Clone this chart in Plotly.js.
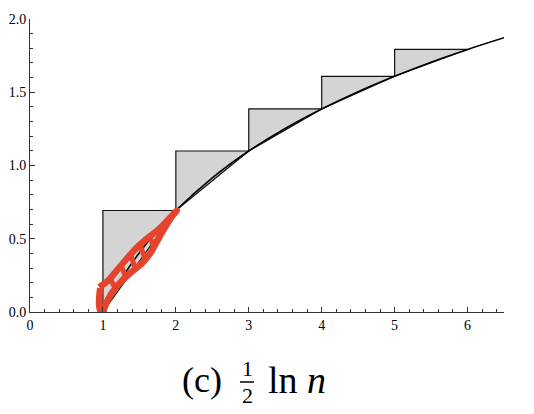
<!DOCTYPE html>
<html>
<head>
<meta charset="utf-8">
<script src="https://cdn.plot.ly/plotly-3.0.1.min.js"></script>
<style>html,body{margin:0;padding:0;background:#fff;}#chart{width:534px;height:414px;}</style>
</head>
<body>
<div id="chart"></div>
<script>
// Step positions n and the values
const stepN = [1, 2, 3, 4, 5];
const stepLow = [0.0, 0.693, 1.099, 1.386, 1.609];   // ln n (chord start)
const stepHigh = [0.693, 1.099, 1.386, 1.609, 1.792]; // ln(n+1) (step top)

// Curve y = ln x, read at these x values
const curveX = [1, 1.25, 1.5, 1.75, 2, 2.5, 3, 3.5, 4, 4.5, 5, 5.5, 6, 6.5];
const curveY = [0, 0.223, 0.405, 0.560, 0.693, 0.916, 1.099, 1.253, 1.386, 1.504, 1.609, 1.705, 1.792, 1.872];

// Hand-drawn red scribble (outline loop)
const scribbleX = [0.95, 1.078, 1.215, 1.352, 1.489, 1.626, 1.763, 1.90, 2.014,
                   1.945, 1.831, 1.740, 1.648, 1.534, 1.397, 1.283, 1.169, 1.078, 1.023, 0.995,
                   0.95, 0.95, 0.963];
const scribbleY = [0.169, 0.218, 0.298, 0.378, 0.451, 0.510, 0.564, 0.633, 0.692,
                   0.651, 0.560, 0.480, 0.400, 0.332, 0.275, 0.225, 0.162, 0.093, 0.032, -0.020,
                   0.036, 0.104, 0.162];
// Hatch strokes inside the loop
const hatchX = [1.10, 1.17, null, 1.25, 1.31, null, 1.38, 1.44, null, 1.51, 1.57, null, 1.64, 1.70];
const hatchY = [0.23, 0.16, null, 0.32, 0.24, null, 0.39, 0.30, null, 0.46, 0.37, null, 0.52, 0.44];

const traces = [];
for (let i = 0; i < stepN.length; i++) {
  const n = stepN[i];
  traces.push({
    type: 'scatter', mode: 'lines',
    x: [n, n, n + 1, n],
    y: [stepLow[i], stepHigh[i], stepHigh[i], stepLow[i]],
    fill: 'toself', fillcolor: '#d4d4d4',
    line: {color: '#111', width: 1.2},
    hoverinfo: 'skip', showlegend: false
  });
}
traces.push({
  type: 'scatter', mode: 'lines', x: curveX, y: curveY,
  line: {color: '#000', width: 1.6, shape: 'spline'},
  showlegend: false
});
traces.push({
  type: 'scatter', mode: 'lines', x: scribbleX, y: scribbleY,
  line: {color: '#e5432b', width: 6.5, shape: 'spline'},
  cliponaxis: false, showlegend: false
});
traces.push({
  type: 'scatter', mode: 'lines', x: hatchX, y: hatchY,
  line: {color: '#e5432b', width: 5},
  connectgaps: false, showlegend: false
});

const L = 30, R = 30, T = 19, B = 102;
const PW = 534 - L - R, PH = 414 - T - B;
const px = v => (v - L) / PW;
const py = v => (414 - B - v) / PH;
const serif = '"Liberation Serif", "Times New Roman", serif';

const layout = {
  width: 534, height: 414,
  margin: {l: L, r: R, t: T, b: B, pad: 0},
  paper_bgcolor: '#fff', plot_bgcolor: '#fff',
  font: {family: serif, size: 14, color: '#000'},
  xaxis: {
    range: [0, 6.5], showgrid: false, zeroline: false,
    showline: true, linecolor: '#333', linewidth: 1,
    ticks: 'inside', ticklen: 5, tickwidth: 1, tickcolor: '#333',
    tickvals: [0, 1, 2, 3, 4, 5, 6],
    minor: {dtick: 0.2, ticks: 'inside', ticklen: 3, tickcolor: '#333', showgrid: false},
    tickfont: {family: serif, size: 14, color: '#000'}
  },
  yaxis: {
    range: [0, 2.0], showgrid: false, zeroline: false,
    showline: true, linecolor: '#333', linewidth: 1,
    ticks: 'inside', ticklen: 5, tickwidth: 1, tickcolor: '#333',
    tickvals: [0, 0.5, 1.0, 1.5, 2.0], tickformat: '.1f',
    minor: {dtick: 0.1, ticks: 'inside', ticklen: 3, tickcolor: '#333', showgrid: false},
    tickfont: {family: serif, size: 14, color: '#000'}
  },
  annotations: [
    {xref: 'paper', yref: 'paper', x: px(202), y: py(380), text: '(c)', showarrow: false,
     xanchor: 'center', yanchor: 'middle', font: {family: serif, size: 36, color: '#000'}},
    {xref: 'paper', yref: 'paper', x: px(247), y: py(382), text: '1', showarrow: false, borderpad: 0,
     xanchor: 'center', yanchor: 'bottom', font: {family: serif, size: 22, color: '#000'}},
    {xref: 'paper', yref: 'paper', x: px(247), y: py(382), text: '2', showarrow: false, borderpad: 0,
     xanchor: 'center', yanchor: 'top', font: {family: serif, size: 22, color: '#000'}},
    {xref: 'paper', yref: 'paper', x: px(266), y: py(380), text: 'ln <i>n</i>', showarrow: false,
     xanchor: 'left', yanchor: 'middle', font: {family: serif, size: 38, color: '#000'}}
  ],
  shapes: [
    {type: 'line', xref: 'paper', yref: 'paper', x0: px(240), x1: px(254), y0: py(382), y1: py(382),
     line: {color: '#000', width: 1.5}}
  ]
};

Plotly.newPlot('chart', traces, layout, {displayModeBar: false, staticPlot: true});
</script>
</body>
</html>
